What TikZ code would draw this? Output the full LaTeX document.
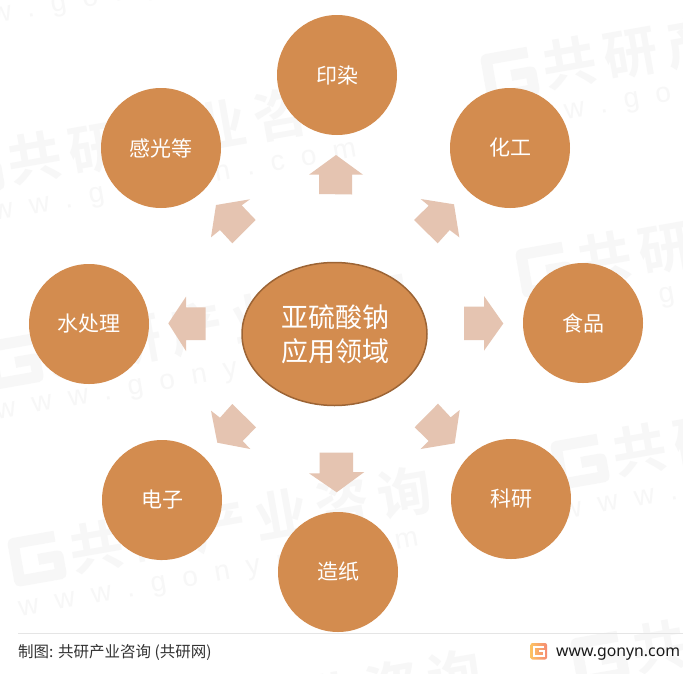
\documentclass[tikz,border=0pt]{standalone}
\usepackage{fontspec}
\setmainfont{Noto Sans CJK SC}
\newfontfamily\wmcjk[LetterSpace=16]{Noto Sans CJK SC Bold}
\newfontfamily\wmlat[LetterSpace=60]{Liberation Sans}
\newfontfamily\urlfont{Noto Sans}
\usetikzlibrary{shapes.geometric}
\definecolor{orangeC}{HTML}{D38C4F}
\definecolor{edgeC}{HTML}{9C6435}
\definecolor{arrowC}{HTML}{E5C4B1}
\definecolor{wmC}{HTML}{F7F7F7}
\definecolor{logoL}{HTML}{FDC263}
\definecolor{logoR}{HTML}{F58B73}
\tikzset{
  leaf/.style={circle,fill=orangeC,draw=none,minimum size=120pt,inner sep=0pt,text=white,
    font=\fontsize{21pt}{25pt}\selectfont},
  hub/.style={ellipse,fill=orangeC,draw=edgeC,line width=1.5pt,minimum width=185pt,minimum height=143pt,inner sep=0pt,
    text=white,align=center,font=\fontsize{27pt}{33.5pt}\selectfont},
  blockarrow/.style={fill=arrowC,draw=none},
  wmtext/.style={inner sep=0pt,text=wmC,anchor=west,rotate=10,font=\wmcjk\fontsize{54pt}{54pt}\selectfont},
  wmurl/.style={inner sep=0pt,text=wmC,anchor=west,rotate=10,font=\wmlat\fontsize{28pt}{28pt}\selectfont},
  wmlogo/.style={draw=wmC,line width=11pt,line join=round},
  foot/.style={inner sep=0pt,text=black!80,anchor=base west}
}
\newcommand{\wmk}[3]{%
  \begin{scope}[shift={(#2,#3)},rotate=10]
    \draw[wmlogo] (-40,-18) -- (-82,-18) -- (-82,20) -- (-40,20) -- (-40,2) -- (-60,2);
    \node[wmtext] (wmt#1) at (-28,0) {共研产业咨询};
    \node[wmurl] (wmu#1) at (-88,50) {www.gonyn.com};
  \end{scope}}
\begin{document}
\begin{tikzpicture}[x=1pt,y=-1pt]
\useasboundingbox (0,0) rectangle (683,673);
\fill[white] (0,0) rectangle (683,673);
% watermarks
\wmk{a}{-3}{-33}
\wmk{b}{570}{63}
\wmk{c}{35}{158}
\wmk{d}{605}{258}
\wmk{e}{74}{350}
\wmk{f}{640}{450}
\wmk{g}{97}{547}
\wmk{h}{660}{647}
\wmk{i}{147}{730}
% block arrows
\fill[blockarrow] (336,155) -- (363,174.7) -- (352,174.7) -- (352,194.5) -- (319,194) -- (319,174.7) -- (309,174.7) -- cycle;
\fill[blockarrow] (454,204.3) -- (459.3,237.3) -- (449.7,230) -- (437.7,243.3) -- (414,220) -- (428.7,205.7) -- (420.7,199) -- cycle;
\fill[blockarrow] (503.3,323.5) -- (484,350.7) -- (484,340) -- (464,340) -- (464,306.7) -- (484,306.7) -- (484,296) -- cycle;
\fill[blockarrow] (454.7,443.3) -- (420.7,449) -- (428.7,441) -- (414.7,427.3) -- (438,403.7) -- (450.7,417.3) -- (459.7,410) -- cycle;
\fill[blockarrow] (336.7,492.3) -- (309,473.3) -- (319.7,473.3) -- (319.7,452.7) -- (353,452.7) -- (353,472) -- (364.3,472) -- cycle;
\fill[blockarrow] (217.3,442.7) -- (211,410.7) -- (220,417.7) -- (232.3,404) -- (256,427.3) -- (242.7,441) -- (250.3,449) -- cycle;
\fill[blockarrow] (168.3,323.3) -- (186,296.7) -- (186,307.3) -- (205.7,307.3) -- (205.7,340) -- (186,340) -- (186,351) -- cycle;
\fill[blockarrow] (216,205) -- (250,199.3) -- (241.7,205.3) -- (255.7,220) -- (232.3,243.3) -- (220,230) -- (211,237.3) -- cycle;
% nodes
\node[hub] (center) at (334.5,334) {\raisebox{-1pt}{\hspace{1pt}亚硫酸钠}\\\raisebox{-1.5pt}{\hspace{1pt}应用领域}};
\node[leaf] (yinran) at (337,75) {印染};
\node[leaf] (huagong) at (510,148) {化工};
\node[leaf] (shipin) at (583,323) {食品};
\node[leaf] (keyan) at (511,499) {科研};
\node[leaf] (zaozhi) at (338,572) {造纸};
\node[leaf] (dianzi) at (162,500) {电子};
\node[leaf] (shuichuli) at (89,324) {水处理};
\node[leaf] (ganguang) at (161,148) {感光等};
% footer
\draw[draw=black!10,line width=1pt] (18,633) -- (683,633);
\node[foot,font=\fontsize{15.5pt}{18pt}\selectfont] (source) at (18,657.5) {制图: 共研产业咨询 (共研网)};
\shade[left color=logoL,right color=logoR,rounded corners=2pt] (530.5,643) rectangle (547,659.5);
\draw[white,line width=2pt] (544,646.5) -- (534,646.5) -- (534,656) -- (544,656) -- (544,651) -- (539,651);
\node[foot,font=\urlfont\fontsize{15.8pt}{20pt}\selectfont,text=black!90] (url) at (556,656) {www.gonyn.com};
\end{tikzpicture}
\end{document}
